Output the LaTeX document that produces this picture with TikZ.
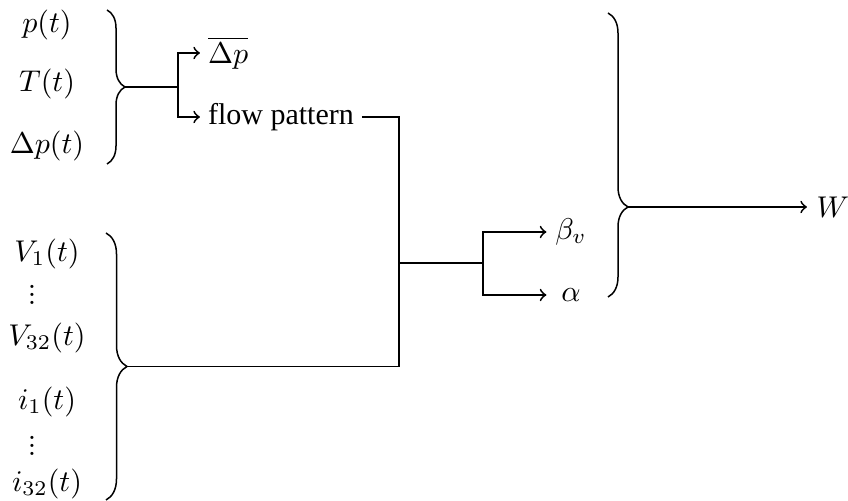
\documentclass[tikz,border=0pt]{standalone}
\usepackage[no-math]{fontspec}
\setmainfont{Liberation Serif}
\usetikzlibrary{decorations.pathreplacing}
\newcommand{\smallvdots}{\vbox{\baselineskip=2.8pt\lineskiplimit=0pt\hbox{$.$}\hbox{$.$}\hbox{$.$}}}
\tikzset{
  lbl/.style={inner sep=0pt},
  vdotsnode/.style={inner sep=0pt},
  txt/.style={anchor=west, inner sep=2.5pt},
  res/.style={inner sep=0pt, minimum width=16pt},
  conn/.style={line width=0.6pt},
  arr/.style={line width=0.6pt, ->},
  bracedeco/.style={line width=0.5pt, decorate, decoration={brace, amplitude=#1}},
}
\begin{document}
\begin{tikzpicture}[x=0.33333pt, y=-0.33333pt]
\useasboundingbox (0,0) rectangle (848,501);
% left inputs
\node[lbl] (p) at (47,25) {$p(t)$};
\node[lbl] (T) at (47,84) {$T(t)$};
\node[lbl] (dpt) at (47,146) {$\Delta p(t)$};
\node[lbl] (V1) at (47,254) {$V_1(t)$};
\node[vdotsnode] (d1) at (32,295) {\smallvdots};
\node[lbl] (V32) at (47,338) {$V_{32}(t)$};
\node[lbl] (i1) at (47,402) {$i_1(t)$};
\node[vdotsnode] (d2) at (32,446) {\smallvdots};
\node[lbl] (i32) at (47,484) {$i_{32}(t)$};
% braces
\draw[bracedeco=6pt] (107,10) -- (107,164);
\coordinate (b1) at (125,87);
\draw[bracedeco=7pt] (106,233) -- (106,500);
\coordinate (b3) at (127,366.5);
\draw[bracedeco=6.67pt, decoration={aspect=0.683}] (608,13) -- (608,297);
\coordinate (b2) at (628,207);
% first split
\coordinate (j1) at (178,87);
\node[txt] (dpbar) at (200,53) {$\overline{\Delta p}$};
\node[txt] (flow) at (200,117) {flow pattern};
\draw[conn] (b1) -- (j1);
\draw[arr] (j1) |- (dpbar.west);
\draw[arr] (j1) |- (flow.west);
% merge
\coordinate (j3) at (399,366.5);
\draw[conn] (flow.east) -| (j3) -- (b3);
\coordinate (j4) at (399,263);
\coordinate (j5) at (483,263);
\draw[conn] (j4) -- (j5);
\node[res] (beta) at (571,232) {$\beta_v$};
\node[res] (alpha) at (571,295) {$\alpha$};
\draw[arr] (j5) |- (beta.west);
\draw[arr] (j5) |- (alpha.west);
% output
\node[anchor=west, inner sep=3pt] (W) at (807,207) {$W$};
\draw[arr] (b2) -- (W.west);
\end{tikzpicture}
\end{document}
